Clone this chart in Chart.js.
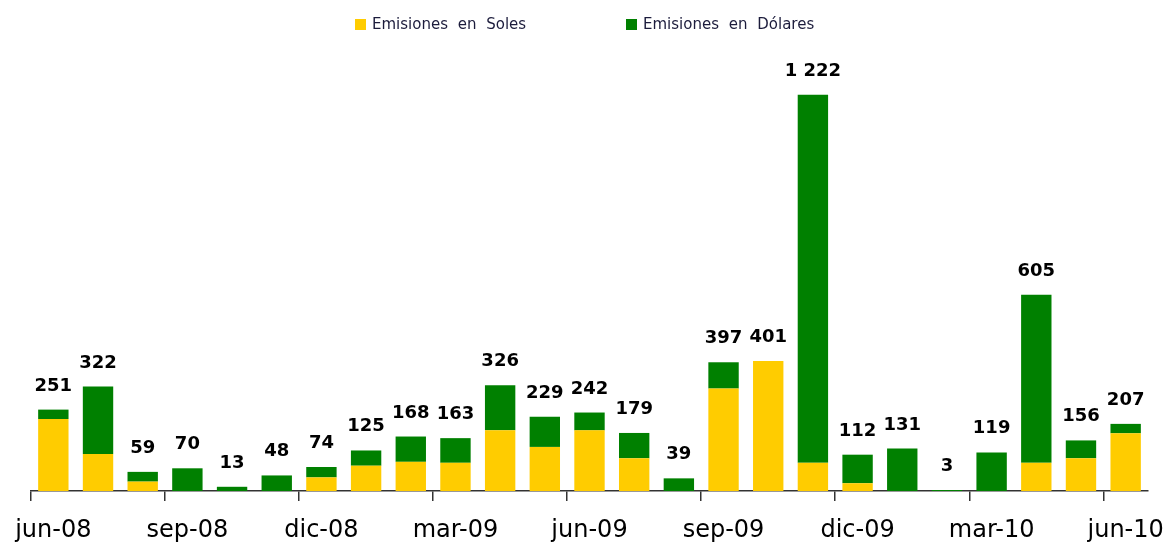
<!DOCTYPE html>
<html>
<head>
<meta charset="utf-8">
<script src="https://cdn.jsdelivr.net/npm/chart.js@4/dist/chart.umd.min.js"></script>
<style>
  html, body { margin: 0; padding: 0; background: #fff; }
  #wrap { width: 1168px; height: 545px; }
</style>
</head>
<body>
<div id="wrap"><canvas id="emisChart"></canvas></div>
<script>
const months = ["jun-08", "jul-08", "ago-08", "sep-08", "oct-08", "nov-08", "dic-08",
    "ene-09", "feb-09", "mar-09", "abr-09", "may-09", "jun-09", "jul-09", "ago-09",
    "sep-09", "oct-09", "nov-09", "dic-09", "ene-10", "feb-10", "mar-10", "abr-10",
    "may-10", "jun-10"];
const soles = [222, 114, 29, 0, 0, 0, 42, 78, 90, 87, 187, 136, 187, 101, 0,
    316, 401, 87, 24, 0, 0, 0, 87, 101, 178];
const dolares = [29, 208, 30, 70, 13, 48, 32, 47, 78, 76, 139, 93, 55, 78, 39,
    81, 0, 1135, 88, 131, 3, 119, 518, 55, 29];
const seriesNames = ["Emisiones en Soles", "Emisiones en Dólares"];
const seriesColors = ["#FFCC00", "#008000"];

function fmtTotal(n) {
    return String(n).replace(/\B(?=(\d{3})+(?!\d))/g, " ");
}

// totals above each stacked bar
const totalsPlugin = {
    id: "totals",
    afterDatasetsDraw(chart) {
        const ctx = chart.ctx;
        const top = chart.getDatasetMeta(1);
        ctx.save();
        ctx.font = "bold 18px 'DejaVu Sans'";
        ctx.fillStyle = "#000";
        ctx.textAlign = "center";
        ctx.textBaseline = "alphabetic";
        top.data.forEach((bar, i) => {
            const total = soles[i] + dolares[i];
            ctx.fillText(fmtTotal(total), bar.x, bar.y - 19);
        });
        ctx.restore();
    }
};

// legend drawn by hand so the items can sit far apart
const legendPlugin = {
    id: "wideLegend",
    afterDraw(chart) {
        const ctx = chart.ctx;
        const xs = [355, 626];
        ctx.save();
        ctx.font = "15px 'DejaVu Sans'";
        ctx.wordSpacing = "5px";
        ctx.textBaseline = "middle";
        ctx.textAlign = "left";
        chart.data.datasets.forEach((ds, i) => {
            ctx.fillStyle = ds.backgroundColor;
            ctx.fillRect(xs[i], 19, 11, 11);
            ctx.fillStyle = "#1c1c3c";
            ctx.fillText(ds.label, xs[i] + 17, 25);
        });
        ctx.restore();
    }
};

const ctx = document.getElementById("emisChart").getContext("2d");

new Chart(ctx, {
    type: "bar",
    data: {
        labels: months,
        datasets: [{
            label: seriesNames[0],
            data: soles,
            backgroundColor: seriesColors[0],
            barPercentage: 0.68,
            categoryPercentage: 1
        }, {
            label: seriesNames[1],
            data: dolares,
            backgroundColor: seriesColors[1],
            barPercentage: 0.68,
            categoryPercentage: 1
        }]
    },
    options: {
        responsive: true,
        maintainAspectRatio: false,
        animation: false,
        layout: {
            padding: { top: 50, left: 31, right: 20, bottom: 0 }
        },
        plugins: {
            legend: { display: false },
            tooltip: { enabled: false }
        },
        scales: {
            x: {
                stacked: true,
                border: { display: true, color: "#333", width: 1.5 },
                grid: {
                    offset: true,
                    drawOnChartArea: false,
                    tickLength: 10,
                    lineWidth: 1.5,
                    color: (c) => (c.index % 3 === 0 ? "#333" : "rgba(0,0,0,0)")
                },
                ticks: {
                    autoSkip: false,
                    maxRotation: 0,
                    padding: 15,
                    color: "#000",
                    font: { family: "'DejaVu Sans'", size: 24 },
                    callback: function (v, i) {
                        return i % 3 === 0 ? this.getLabelForValue(v) : "";
                    }
                },
                afterFit(scale) {
                    scale.height = 54;
                    scale.paddingLeft = 0;
                    scale.paddingRight = 0;
                }
            },
            y: {
                stacked: true,
                display: false,
                min: 0,
                max: 1360
            }
        }
    },
    plugins: [totalsPlugin, legendPlugin]
});
</script>
</body>
</html>
